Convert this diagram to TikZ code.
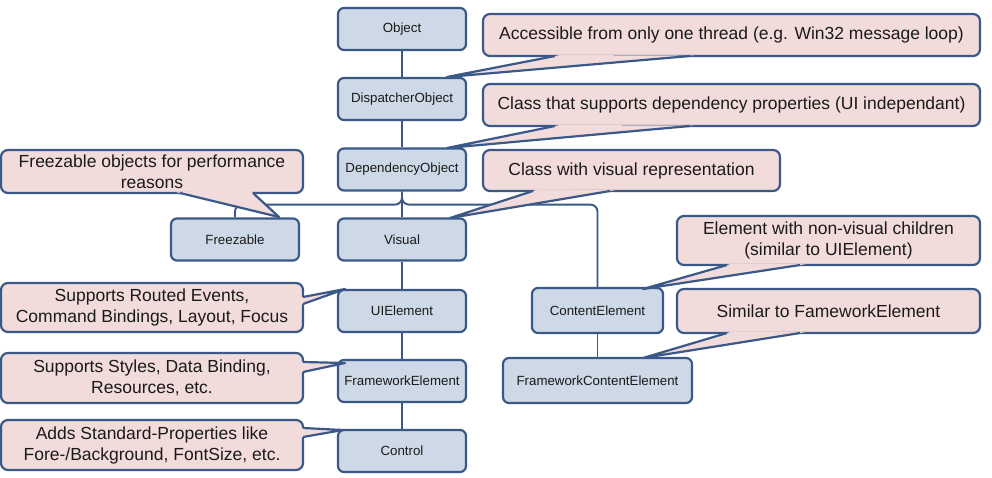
\documentclass[tikz,border=0pt]{standalone}
\usepackage{fontspec}
\setmainfont{Liberation Sans}
\usetikzlibrary{calc}
\definecolor{clsfill}{HTML}{CDD9E6}
\definecolor{bord}{HTML}{3A5888}
\definecolor{callfill}{HTML}{F2DCDB}
\definecolor{txt}{HTML}{1A1A1A}
\newcommand{\callwedge}[3]{%
  \fill[callfill] ($(#2)!-5pt!(#1)$) -- (#1) -- ($(#3)!-5pt!(#1)$) -- cycle;
  \draw[wedgeline] (#2) -- (#1) -- (#3);}
\begin{document}
\begin{tikzpicture}[x=1pt,y=-1pt,
  cls/.style={draw=bord, line width=2.2pt, fill=clsfill, rounded corners=6pt,
    minimum width=128pt, minimum height=42pt, inner sep=0pt,
    font=\fontsize{13.3}{15}\selectfont, text=txt},
  call/.style={draw=bord, line width=2.2pt, fill=callfill, rounded corners=7pt,
    inner sep=0pt, align=center, font=\fontsize{17.5}{21}\selectfont, text=txt},
  tree/.style={draw=bord, line width=1.9pt},
  wedgeline/.style={draw=bord, line width=2.2pt, line join=round}]
\useasboundingbox (0,0) rectangle (992,478);

% class nodes
\node[cls] (obj)   at (402,29)    {Object};
\node[cls] (disp)  at (402,99)    {DispatcherObject};
\node[cls] (dep)   at (402,169.5) {DependencyObject};
\node[cls] (freez) at (235,239.5) {Freezable};
\node[cls] (vis)   at (402,239.5) {Visual};
\node[cls] (uie)   at (402,311)   {UIElement};
\node[cls] (fe)    at (402,381)   {FrameworkElement};
\node[cls] (ctrl)  at (402,451)   {Control};
\node[cls, minimum width=131pt, minimum height=45pt] (cont) at (597.5,310.5) {ContentElement};
\node[cls, minimum width=189pt, minimum height=45pt] (fce)  at (597.5,380.5) {FrameworkContentElement};

% tree connectors
\draw[tree] (obj) -- (disp);
\draw[tree] (disp) -- (dep);
\draw[tree] (dep) -- (vis);
\draw[tree, rounded corners=7pt] (dep.south) -- ++(0,13) -| (freez.north);
\draw[tree, rounded corners=7pt] (dep.south) -- ++(0,13) -| (cont.north);
\draw[tree] (vis) -- (uie);
\draw[tree] (uie) -- (fe);
\draw[tree] (fe) -- (ctrl);
\draw[tree] (cont) -- (fce);

% callouts
\node[call, minimum width=497pt, minimum height=42pt] (c1) at (731.5,35)
  {Accessible from only one thread (e.g. Win32 message loop)};
\node[call, minimum width=497pt, minimum height=42pt] (c2) at (731.5,105)
  {Class that supports dependency properties (UI independant)};
\node[call, minimum width=297pt, minimum height=41pt] (c3) at (631.5,170.5)
  {Class with visual representation};
\node[call, minimum width=302pt, minimum height=43pt] (c4) at (152,171.5)
  {Freezable objects for performance\\reasons};
\node[call, minimum width=303pt, minimum height=49pt] (c5) at (828.5,240.5)
  {Element with non-visual children\\(similar to UIElement)};
\node[call, minimum width=303pt, minimum height=44pt] (c6) at (828.5,311)
  {Similar to FameworkElement};
\node[call, minimum width=302pt, minimum height=49pt] (c7) at (152,307.5)
  {Supports Routed Events,\\Command Bindings, Layout, Focus};
\node[call, minimum width=302pt, minimum height=50pt] (c8) at (152,378)
  {Supports Styles, Data Binding,\\Resources, etc.};
\node[call, minimum width=302pt, minimum height=50pt] (c9) at (152,445)
  {Adds Standard-Properties like\\Fore-/Background, FontSize, etc.};

% wedge tips and bases
\coordinate (t1) at (447,77);  \coordinate (b1a) at (555,56);  \coordinate (b1b) at (690,56);
\coordinate (t2) at (447,148); \coordinate (b2a) at (555,126); \coordinate (b2b) at (690,126);
\coordinate (t3) at (450,218); \coordinate (b3a) at (533,191); \coordinate (b3b) at (610,191);
\coordinate (t4) at (279,217); \coordinate (b4a) at (180,193); \coordinate (b4b) at (253,193);
\coordinate (t5) at (643,289); \coordinate (b5a) at (727,265); \coordinate (b5b) at (800,265);
\coordinate (t6) at (643,358); \coordinate (b6a) at (727,333); \coordinate (b6b) at (800,333);
\coordinate (t7) at (345,289); \coordinate (b7a) at (303,297); \coordinate (b7b) at (303,304);
\coordinate (t8) at (345,363); \coordinate (b8a) at (303,362); \coordinate (b8b) at (303,372);
\coordinate (t9) at (343,430); \coordinate (b9a) at (303,428); \coordinate (b9b) at (303,437);

\callwedge{t1}{b1a}{b1b}
\callwedge{t2}{b2a}{b2b}
\callwedge{t3}{b3a}{b3b}
\callwedge{t4}{b4a}{b4b}
\callwedge{t5}{b5a}{b5b}
\callwedge{t6}{b6a}{b6b}
\callwedge{t7}{b7a}{b7b}
\callwedge{t8}{b8a}{b8b}
\callwedge{t9}{b9a}{b9b}
\end{tikzpicture}
\end{document}
